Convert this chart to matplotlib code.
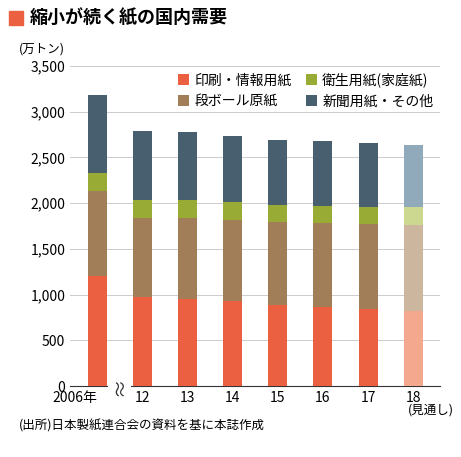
import matplotlib.pyplot as plt
from matplotlib.patches import Rectangle

plt.rcParams["font.family"] = ["Noto Sans CJK JP", "DejaVu Sans"]

# Data (万トン)
years = ["2006年", "12", "13", "14", "15", "16", "17", "18"]
printing = [1200, 975, 950, 930, 885, 865, 840, 820]
corrugated = [930, 865, 885, 885, 910, 920, 930, 940]
sanitary = [195, 195, 195, 195, 185, 185, 185, 195]
newsprint = [855, 755, 745, 725, 710, 710, 700, 680]
labels = ["印刷・情報用紙", "段ボール原紙", "衛生用紙(家庭紙)", "新聞用紙・その他"]

colors = ["#EA6040", "#A27E58", "#97AB35", "#475F6F"]
light = ["#F4A98F", "#CDB69E", "#CCD78F", "#91AABB"]

fig = plt.figure(figsize=(4.61, 4.57), dpi=100)
ax = fig.add_axes([0.152, 0.155, 0.803, 0.701])

x = list(range(len(years)))
series = [printing, corrugated, sanitary, newsprint]
bottom = [0] * len(years)
for i, s in enumerate(series):
    cols = [colors[i]] * (len(years) - 1) + [light[i]]
    ax.bar(x, s, bottom=bottom, width=0.42, color=cols, label=labels[i], zorder=3)
    bottom = [b + v for b, v in zip(bottom, s)]

ax.set_ylim(0, 3500)
ax.set_xlim(-0.6, 7.6)
ax.set_yticks(range(0, 3501, 500))
ax.set_yticklabels([f"{v:,}" for v in range(0, 3501, 500)], fontsize=10)
ax.set_xticks(x)
ax.set_xticklabels(years, fontsize=10)
ax.get_xticklabels()[0].set_horizontalalignment("right")
ax.get_xticklabels()[0].set_x(0.25)
ax.tick_params(length=0)
ax.grid(axis="y", color="#cccccc", linewidth=0.7, zorder=0)
for sp in ["top", "right", "left"]:
    ax.spines[sp].set_visible(False)
ax.spines["bottom"].set_color("#333333")

# axis break mark
ax.text(0.5, 0, "≈", rotation=90, fontsize=14, ha="center", va="center",
        color="#333333", zorder=5,
        bbox=dict(facecolor="white", edgecolor="none", pad=0.5))

ax.legend(ncol=2, loc="upper right", bbox_to_anchor=(1.0, 1.0), frameon=False,
          fontsize=10, handlelength=0.8, handleheight=0.8, columnspacing=1.0,
          handletextpad=0.4, borderaxespad=0.1)

fig.text(0.04, 0.885, "(万トン)", fontsize=9)
fig.text(0.935, 0.095, "(見通し)", fontsize=9, ha="center")
fig.text(0.04, 0.06, "(出所)日本製紙連合会の資料を基に本誌作成", fontsize=9)
fig.patches.append(Rectangle((0.02, 0.945), 0.03, 0.032, transform=fig.transFigure,
                             color="#EA6040"))
fig.text(0.065, 0.96, "縮小が続く紙の国内需要", fontsize=13, fontweight="bold", va="center")

plt.savefig("out.png")
